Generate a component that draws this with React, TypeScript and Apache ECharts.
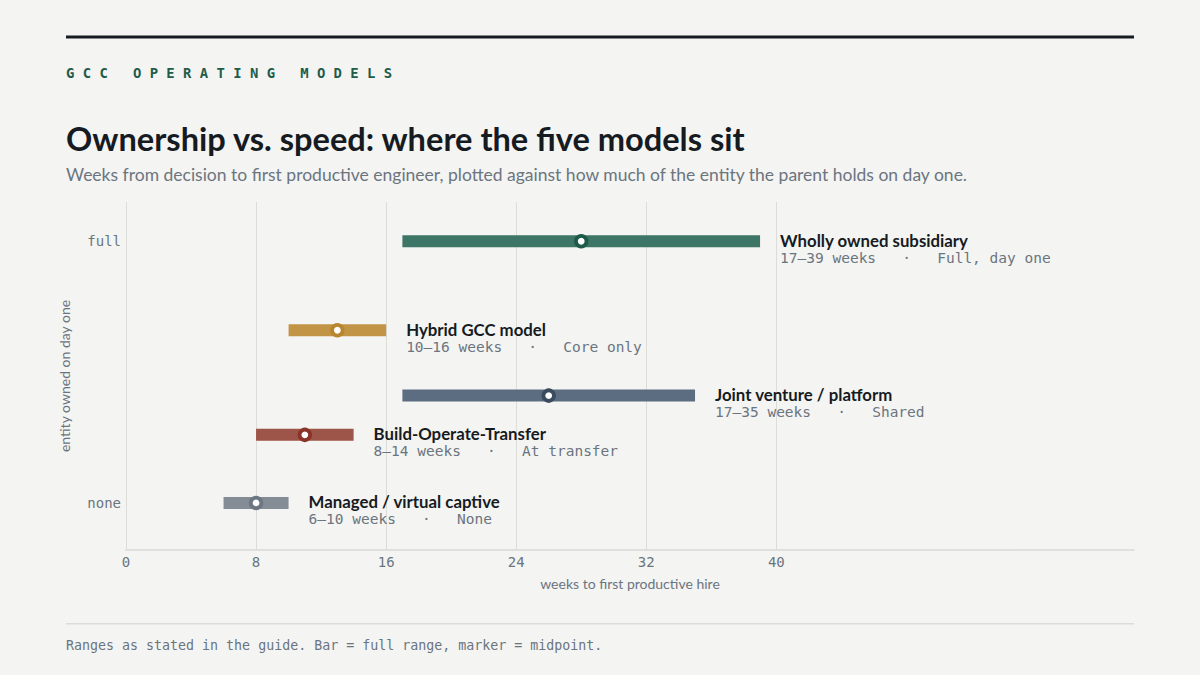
import React, { useEffect, useRef } from "react";
import * as echarts from "echarts";

// ---- data ----
const models = [
  "Wholly owned subsidiary",
  "Hybrid GCC model",
  "Joint venture / platform",
  "Build-Operate-Transfer",
  "Managed / virtual captive",
];
const minWeeks = [17, 10, 17, 8, 6];
const maxWeeks = [39, 16, 35, 14, 10];
const midWeeks = [28, 13, 26, 11, 8];
const ownership = [1, 0.66, 0.41, 0.26, 0];
const ownershipText = ["Full, day one", "Core only", "Shared", "At transfer", "None"];
const gridWeeks = [0, 8, 16, 24, 32, 40];
const yTickValues = [0, 1];
const yTickLabels = ["none", "full"];

// ---- styles ----
const barColors = ["#3d7566", "#c29546", "#5d6d81", "#9d5549", "#848d96"];
const ringColors = ["#1e5a48", "#b8862e", "#3a4a5f", "#8a3428", "#6c7782"];

const BG = "#f4f4f2";
const INK = "#161b22";
const MUTED = "#6b7580";
const MONO = '"DejaVu Sans Mono", monospace';
const SANS = 'Lato, "Noto Sans", sans-serif';
const NB = "\u00A0";

export default function App() {
  const ref = useRef<HTMLDivElement>(null);

  useEffect(() => {
    if (!ref.current) return;
    const chart = echarts.init(ref.current, undefined, { renderer: "svg" });

    const eyebrow = "GCC OPERATING MODELS"
      .split(" ")
      .map((w) => w.split("").join(NB))
      .join(NB + NB + NB);

    const data = models.map((_, i) => [minWeeks[i], maxWeeks[i], midWeeks[i], ownership[i]]);

    const option: any = {
      animation: false,
      backgroundColor: BG,
      grid: { left: 126, right: 66, top: 202, bottom: 125 },
      xAxis: {
        type: "value",
        min: 0,
        max: 62,
        interval: 8,
        name: "weeks to first productive hire",
        nameLocation: "middle",
        nameGap: 26,
        nameTextStyle: { fontFamily: SANS, fontSize: 14, color: MUTED },
        axisLine: { show: true, onZero: false, lineStyle: { color: "#d9d9d5", width: 1.5 } },
        axisTick: { show: false },
        splitLine: { show: false },
        axisLabel: {
          margin: 5,
          fontFamily: MONO,
          fontSize: 14,
          color: MUTED,
          formatter: (v: number) => (v <= 40 ? String(v) : ""),
        },
      },
      yAxis: {
        type: "value",
        min: -0.18,
        max: 1.15,
        name: "entity owned on day one",
        nameLocation: "middle",
        nameGap: 55,
        nameTextStyle: { fontFamily: SANS, fontSize: 14, color: MUTED },
        axisLine: { show: false },
        axisTick: { show: false },
        splitLine: { show: false },
        axisLabel: {
          customValues: yTickValues,
          margin: 5,
          fontFamily: MONO,
          fontSize: 14,
          color: MUTED,
          formatter: (v: number) => {
            const k = yTickValues.indexOf(v);
            return k >= 0 ? yTickLabels[k] : "";
          },
        },
      },
      series: [
        {
          type: "line",
          z: 1,
          data: [[0, 0]],
          showSymbol: false,
          symbol: "none",
          lineStyle: { opacity: 0 },
          silent: true,
          markLine: {
            z: 1,
            silent: true,
            symbol: ["none", "none"],
            label: { show: false },
            lineStyle: { color: "#dcdcd8", width: 1, type: "solid" },
            data: gridWeeks.map((v) => ({ xAxis: v })),
          },
        },
        {
          type: "custom",
          z: 6,
          silent: true,
          clip: false,
          data,
          renderItem: (params: any, api: any) => {
            const i = params.dataIndex;
            const lo = api.coord([api.value(0), api.value(3)]);
            const hi = api.coord([api.value(1), api.value(3)]);
            const mid = api.coord([api.value(2), api.value(3)]);
            const sub = `${minWeeks[i]}–${maxWeeks[i]}${NB}weeks${NB}${NB}${NB}·${NB}${NB}${NB}${ownershipText[i]}`;
            return {
              type: "group",
              children: [
                {
                  type: "rect",
                  shape: { x: lo[0], y: lo[1] - 6, width: hi[0] - lo[0], height: 12 },
                  style: { fill: barColors[i] },
                },
                {
                  type: "circle",
                  shape: { cx: mid[0], cy: mid[1], r: 5.3 },
                  style: { fill: "#ffffff", stroke: ringColors[i], lineWidth: 3.8 },
                },
                {
                  type: "text",
                  x: hi[0] + 20,
                  y: hi[1] - 1,
                  style: {
                    text: models[i],
                    fontFamily: SANS,
                    fontWeight: "bold",
                    fontSize: 16.8,
                    fill: INK,
                    verticalAlign: "middle",
                    align: "left",
                  },
                },
                {
                  type: "text",
                  x: hi[0] + 20,
                  y: hi[1] + 16.5,
                  style: {
                    text: sub,
                    fontFamily: MONO,
                    fontSize: 14.5,
                    fill: MUTED,
                    verticalAlign: "middle",
                    align: "left",
                  },
                },
              ],
            };
          },
        },
      ],
      graphic: [
        { type: "rect", shape: { x: 66, y: 35.5, width: 1068, height: 3 }, style: { fill: INK } },
        {
          type: "text",
          x: 66,
          y: 73,
          style: {
            text: eyebrow,
            fontFamily: MONO,
            fontWeight: "bold",
            fontSize: 13.9,
            fill: "#1f5c4a",
            verticalAlign: "middle",
          },
        },
        {
          type: "text",
          x: 66,
          y: 138,
          style: {
            text: "Ownership vs. speed: where the five models sit",
            fontFamily: SANS,
            fontWeight: "bold",
            fontSize: 32.6,
            fill: INK,
            verticalAlign: "middle",
          },
        },
        {
          type: "text",
          x: 66,
          y: 174,
          style: {
            text: "Weeks from decision to first productive engineer, plotted against how much of the entity the parent holds on day one.",
            fontFamily: SANS,
            fontSize: 17.5,
            fill: MUTED,
            verticalAlign: "middle",
          },
        },
        { type: "rect", shape: { x: 66, y: 623, width: 1068, height: 1.5 }, style: { fill: "#dcdcd8" } },
        {
          type: "text",
          x: 66,
          y: 645,
          style: {
            text: "Ranges as stated in the guide. Bar = full range, marker = midpoint.",
            fontFamily: MONO,
            fontSize: 13.3,
            fill: MUTED,
            verticalAlign: "middle",
          },
        },
      ],
    };

    chart.setOption(option);
    return () => chart.dispose();
  }, []);

  return (
    <div
      ref={ref}
      style={{ position: "fixed", left: 0, top: 0, width: 1200, height: 675, background: BG }}
    />
  );
}
